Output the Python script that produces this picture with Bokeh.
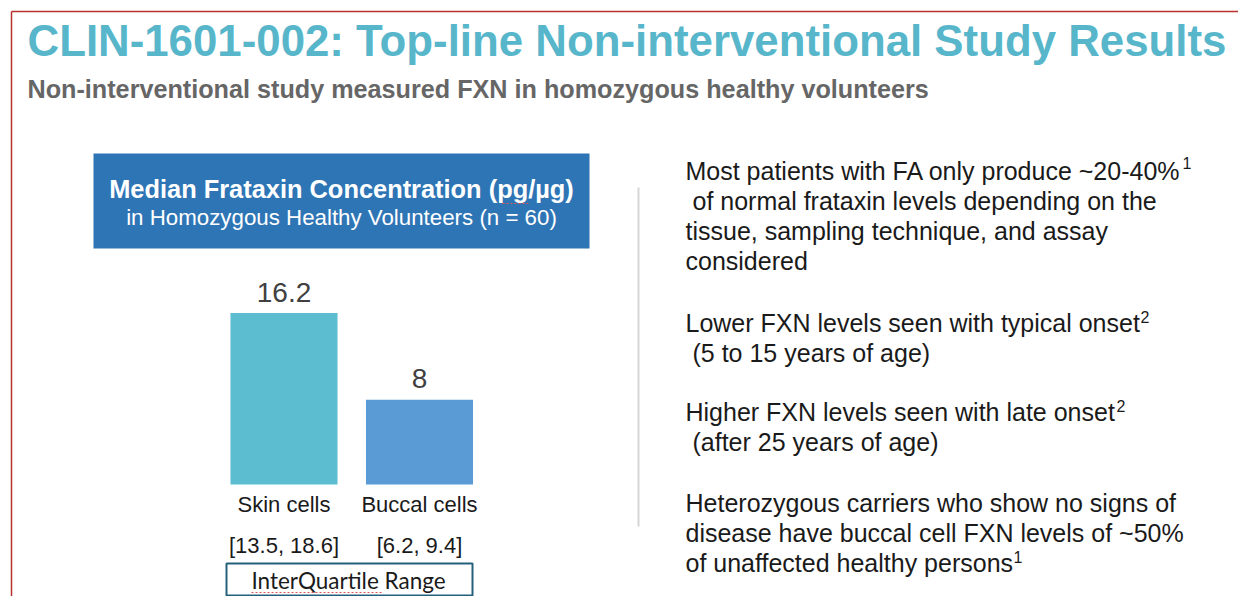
from bokeh.plotting import figure
from bokeh.models import Range1d, ColumnDataSource
from bokeh.core.properties import value
from bokeh.embed import file_html
from bokeh.resources import INLINE

# ---------------- data ----------------
categories = ["Skin cells", "Buccal cells"]
medians = [16.2, 8.0]
median_labels = ["16.2", "8"]
iqr_labels = ["[13.5, 18.6]", "[6.2, 9.4]"]
bar_colors = ["#5BBDCF", "#5B9BD5"]

title_text = "CLIN-1601-002: Top-line Non-interventional Study Results"
subtitle_text = "Non-interventional study measured FXN in homozygous healthy volunteers"
box_title = "Median Frataxin Concentration (pg/\u00b5g)"
box_subtitle = "in Homozygous Healthy Volunteers (n = 60)"
iqr_caption = "InterQuartile Range"
bullet_lines = [
    "Most patients with FA only produce ~20-40%",
    "of normal frataxin levels depending on the",
    "tissue, sampling technique, and assay",
    "considered",
    "Lower FXN levels seen with typical onset",
    "(5 to 15 years of age)",
    "Higher FXN levels seen with late onset",
    "(after 25 years of age)",
    "Heterozygous carriers who show no signs of",
    "disease have buccal cell FXN levels of ~50%",
    "of unaffected healthy persons",
]
footnote_marks = ["1", "2", "2", "1"]

# ---------------- layout (pixel frame, y measured from top) ----------------
W, H = 1238, 596
MID = 0.35  # text anchor correction (em)


def fx(x):
    return x


def fy(y):
    return H - y


def ty(baseline, size):
    return fy(baseline - MID * size)


FONT = value("Liberation Sans")

p = figure(width=W, height=H, output_backend="svg", toolbar_location=None,
           x_range=Range1d(0, W), y_range=Range1d(0, H), min_border=0)
p.axis.visible = False
p.grid.visible = False
p.outline_line_color = None
p.background_fill_color = "white"
p.border_fill_color = "white"

# bar scales (value and category)
px_per_unit = 10.58
base_px = fy(484)
p.extra_y_ranges = {"val": Range1d(-base_px / px_per_unit, (H - base_px) / px_per_unit)}
cat_step = 135.5
first_center = fx(283.5)
p.extra_x_ranges = {"cat": Range1d(-first_center / cat_step, (W - first_center) / cat_step)}

# slide border (top and left red rule)
p.segment(x0=[fx(11), fx(11)], y0=[fy(11), fy(11)], x1=[W + 5, fx(11)], y1=[fy(11), -5],
          line_color="#B7322E", line_width=1.5)

# title and subtitle
p.text(x=[fx(27)], y=[ty(55, 43.8)], text=[title_text], text_font=FONT, text_font_size="43.8px",
       text_font_style="bold", text_color="#58B6CB", text_baseline="alphabetic")
p.text(x=[fx(27)], y=[ty(97, 25.2)], text=[subtitle_text], text_font=FONT, text_font_size="25.2px",
       text_font_style="bold", text_color="#666666", text_baseline="alphabetic")

# header box
p.quad(left=[fx(93)], right=[fx(589)], top=[fy(153)], bottom=[fy(248)],
       fill_color="#2E75B6", line_color=None)
p.text(x=[fx(341)], y=[ty(197, 25.4)], text=[box_title], text_font=FONT, text_font_size="25.4px",
       text_font_style="bold", text_color="white", text_align="center", text_baseline="alphabetic")
p.text(x=[fx(341)], y=[ty(225, 22.3)], text=[box_subtitle], text_font=FONT, text_font_size="22.3px",
       text_color="white", text_align="center", text_baseline="alphabetic")
# spell-check squiggle under "pg"
p.segment(x0=[fx(502)], y0=[fy(203)], x1=[fx(528)], y1=[fy(203)], line_color="#E05555",
          line_width=1, line_dash="2 2")

# bars
idx = list(range(len(categories)))
src = ColumnDataSource(dict(x=idx, top=medians, color=bar_colors, vlab=median_labels,
                            cat=categories, iqr=iqr_labels, zero=[0] * len(idx)))
p.vbar(x="x", top="top", bottom=0, width=0.79, fill_color="color", line_color=None,
       source=src, x_range_name="cat", y_range_name="val")
p.text(x="x", y="top", text="vlab", source=src, x_range_name="cat", y_range_name="val",
       text_font=FONT, text_font_size="28px", text_color="#404040", text_align="center",
       text_baseline="alphabetic", y_offset=-21)
p.text(x="x", y="zero", text="cat", source=src, x_range_name="cat", y_range_name="val",
       text_font=FONT, text_font_size="22px", text_color="#1A1A1A", text_align="center",
       text_baseline="alphabetic", y_offset=20)
p.text(x="x", y="zero", text="iqr", source=src, x_range_name="cat", y_range_name="val",
       text_font=FONT, text_font_size="22px", text_color="#1A1A1A", text_align="center",
       text_baseline="alphabetic", y_offset=61)

# IQR caption box
p.quad(left=[fx(226)], right=[fx(472)], top=[fy(563)], bottom=[fy(595)],
       fill_color=None, line_color="#24607A", line_width=2)
p.text(x=[fx(348)], y=[ty(588, 22.5)], text=[iqr_caption], text_font=value("Lato"),
       text_font_size="22.5px", text_color="#1A1A1A", text_align="center", text_baseline="alphabetic")
p.segment(x0=[fx(251)], y0=[fy(592)], x1=[fx(381)], y1=[fy(592)], line_color="#E05555",
          line_width=1, line_dash="2 2")

# separator
p.segment(x0=[fx(638)], y0=[fy(187)], x1=[fx(638)], y1=[fy(526)], line_color="#D6D6D6", line_width=2)

# right-hand text
baselines = [179, 209, 239, 269, 331, 361, 420, 450, 511, 541, 571]
indents = [0, 7, 0, 0, 0, 7, 0, 7, 0, 0, 0]
p.text(x=[fx(685 + d) for d in indents], y=[ty(b, 25) for b in baselines], text=bullet_lines,
       text_font=FONT, text_font_size="25px", text_color="#1A1A1A", text_baseline="alphabetic")
# footnote superscripts
sup_x = [1182, 1140, 1116, 1013]
sup_base = [168, 322, 411, 562]
p.text(x=[fx(v) for v in sup_x], y=[ty(b, 16) for b in sup_base], text=footnote_marks,
       text_font=FONT, text_font_size="16px", text_color="#1A1A1A", text_baseline="alphabetic")

open("out.html", "w").write(file_html(p, INLINE))
